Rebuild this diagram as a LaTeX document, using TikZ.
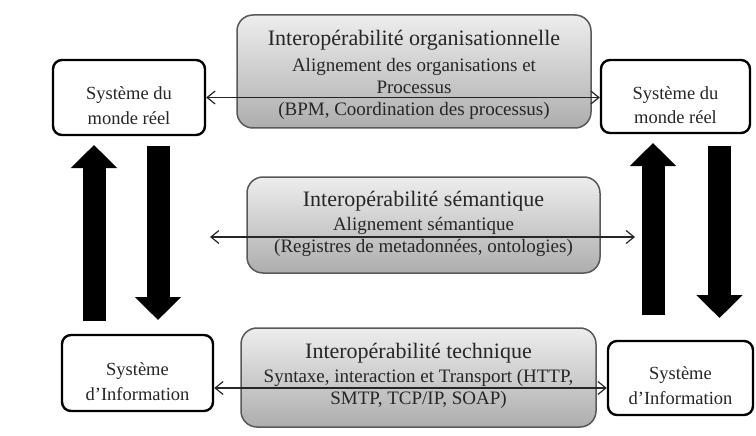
\documentclass[tikz,border=0pt]{standalone}
\usepackage{fontspec}
\setmainfont{Liberation Serif}
\usetikzlibrary{arrows.meta,calc}
\tikzset{
  sysbox/.style={draw=black,line width=2.4pt,rounded corners=9pt,fill=white,inner sep=0pt},
  systext/.style={align=center,font=\fontsize{18.5}{24.5}\selectfont,inner sep=0pt,text=black!85},
  interbox/.style={draw=black!65,line width=1.5pt,rounded corners=16pt,top color=black!7,bottom color=black!32,inner sep=0pt},
  intertext/.style={align=center,font=\fontsize{19}{22}\selectfont,inner sep=0pt,text=black!85},
  thin/.style={line width=1.2pt,draw=black!85,{Straight Barb[length=8pt,width=13pt]}-{Straight Barb[length=8pt,width=13pt]}},
  bigarrow/.style={line width=23pt,-{Triangle[width=45pt,length=23pt]}}
}
\newcommand{\ttl}[1]{{\fontsize{22}{26}\selectfont #1}}
\begin{document}
\begin{tikzpicture}[x=1pt,y=-1pt]
\useasboundingbox[fill=white] (0,0) rectangle (756,436);
% grey boxes
\node[interbox,minimum width=354pt,minimum height=113pt] (org) at (414,71.5) {};
\node[interbox,minimum width=353pt,minimum height=96pt] (sem) at (423.5,225) {};
\node[interbox,minimum width=355pt,minimum height=99pt] (tec) at (418.5,377.5) {};
\node[intertext] (orgt) at ([yshift=-3.5pt]org.center) {\ttl{Interopérabilité organisationnelle}\\[4pt]Alignement des organisations et\\Processus\\(BPM, Coordination des processus)};
\node[intertext] (semt) at ([yshift=1.5pt]sem.center) {\ttl{Interopérabilité sémantique}\\[2pt]Alignement sémantique\\(Registres de metadonnées, ontologies)};
\node[intertext] (tect) at ([yshift=2pt]tec.center) {\ttl{Interopérabilité technique}\\[2pt]Syntaxe, interaction et Transport (HTTP,\\SMTP, TCP/IP, SOAP)};
% system boxes
\node[sysbox,minimum width=152pt,minimum height=75pt] (nwl) at (129,97.5) {};
\node[sysbox,minimum width=149pt,minimum height=73pt] (nwr) at (675.5,96.5) {};
\node[sysbox,minimum width=151pt,minimum height=76pt] (swl) at (137.5,373) {};
\node[sysbox,minimum width=145pt,minimum height=74pt] (swr) at (680.5,378) {};
\node[systext] (nwlt) at ([yshift=-8pt]nwl.center) {Système du\\monde réel};
\node[systext] (nwrt) at ([yshift=-8.5pt]nwr.center) {Système du\\monde réel};
\node[systext] (swlt) at ([yshift=-8.5pt]swl.center) {Système\\d'Information};
\node[systext] (swrt) at ([yshift=-7.5pt]swr.center) {Système\\d'Information};
% thin double arrows
\draw[thin] (nwl.east) -- (nwl.east -| nwr.west);
\coordinate (ml) at (210,237);
\coordinate (mr) at (635,237);
\draw[thin] (ml) -- (mr);
\draw[thin] ([yshift=-15pt]swl.east) -- ([yshift=-10pt]swr.west);
% big arrows
\coordinate (lu1) at (94,321);
\coordinate (lu2) at (94,145);
\coordinate (ld1) at (158,146);
\coordinate (ld2) at (158,320);
\coordinate (ru1) at (653,315);
\coordinate (ru2) at (653,143);
\coordinate (rd1) at (719.5,146);
\coordinate (rd2) at (719.5,318);
\draw[bigarrow] (lu1) -- (lu2);
\draw[bigarrow] (ld1) -- (ld2);
\draw[bigarrow] (ru1) -- (ru2);
\draw[bigarrow] (rd1) -- (rd2);
\end{tikzpicture}
\end{document}
